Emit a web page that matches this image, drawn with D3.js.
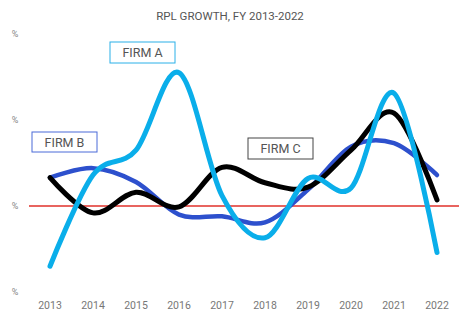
<!DOCTYPE html>
<html>
<head>
<meta charset="utf-8">
<script src="https://cdn.jsdelivr.net/npm/d3@7"></script>
<style>
  body { margin: 0; background: #fff; }
  svg { display: block; font-family: Roboto, "Open Sans", sans-serif; }
</style>
</head>
<body>
<svg id="chart" width="474" height="323"></svg>
<script>
//
// Data
//
const years = [2013, 2014, 2015, 2016, 2017, 2018, 2019, 2020, 2021, 2022];
const firmA = [-0.70, 0.36, 0.65, 1.55, 0.12, -0.37, 0.32, 0.21, 1.31, -0.54];
const firmB = [0.33, 0.44, 0.28, -0.10, -0.12, -0.19, 0.19, 0.69, 0.73, 0.36];
const firmC = [0.33, -0.08, 0.16, -0.01, 0.45, 0.27, 0.22, 0.65, 1.08, 0.07];
const yTicks = [-1, 0, 1, 2];
const tickLabel = "%";

//
// Setup
//
const svg = d3.select("#chart");
const x = d3.scalePoint().domain(years).range([50, 437]);
const y = d3.scaleLinear().domain([-1, 2]).range([292, 34]);

// smoothed lines, excel-like
const line = d3.line()
  .x((d, i) => x(years[i]))
  .y(d => y(d))
  .curve(d3.curveCardinal.tension(0));

// title
svg.append("text")
  .attr("x", 230).attr("y", 20)
  .attr("text-anchor", "middle")
  .attr("font-size", 11.5)
  .attr("fill", "#555")
  .text("RPL GROWTH, FY 2013-2022");

// y labels (just "%")
svg.selectAll(".ylab").data(yTicks).enter().append("text")
  .attr("x", 15).attr("y", d => y(d) + 3)
  .attr("text-anchor", "middle")
  .attr("font-size", 9)
  .attr("fill", "#888")
  .text(tickLabel);

// x labels
svg.selectAll(".xlab").data(years).enter().append("text")
  .attr("x", d => x(d)).attr("y", 309)
  .attr("text-anchor", "middle")
  .attr("font-size", 10.5)
  .attr("fill", "#777")
  .text(d => d);

// zero line
svg.append("line")
  .attr("x1", 29).attr("x2", 459)
  .attr("y1", y(0)).attr("y2", y(0))
  .attr("stroke", "#e0302a").attr("stroke-width", 1.5);

function series(vals, color, w) {
  svg.append("path")
    .attr("d", line(vals))
    .attr("fill", "none")
    .attr("stroke", color)
    .attr("stroke-width", w)
    .attr("stroke-linecap", "round")
    .attr("stroke-linejoin", "round");
}

series(firmB, "#2d50cd", 4.5);
series(firmC, "#000", 5);
series(firmA, "#0aaeea", 5);

// labels boxes
function label(text, bx, by, bw, bh, color) {
  svg.append("rect")
    .attr("x", bx).attr("y", by).attr("width", bw).attr("height", bh)
    .attr("fill", "#fff").attr("stroke", color).attr("stroke-width", 1);
  svg.append("text")
    .attr("x", bx + bw / 2).attr("y", by + bh / 2 + 4.5)
    .attr("text-anchor", "middle")
    .attr("font-size", 12.5)
    .attr("fill", "#555")
    .text(text);
}
label("FIRM A", 110, 42, 65, 21, "#2ab0e8");
label("FIRM B", 32, 132, 65, 20, "#4a6ad8");
label("FIRM C", 248, 138, 65, 21, "#444");
</script>
</body>
</html>
